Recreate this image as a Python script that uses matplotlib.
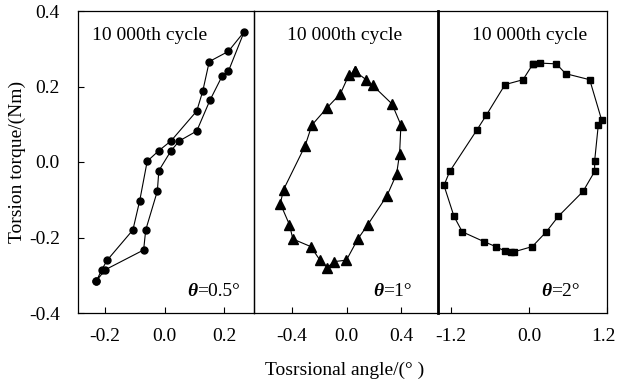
import matplotlib
matplotlib.use("Agg")
import matplotlib.pyplot as plt
from matplotlib.transforms import ScaledTranslation

plt.rcParams["font.family"] = ["Liberation Serif", "DejaVu Serif"]
plt.rcParams["axes.unicode_minus"] = False

# Hysteresis loops at the 10 000th cycle, torque (Nm) vs torsional angle (deg)

# theta = 0.5 deg, loading branch then unloading branch
angle_05 = [-0.228, -0.211, -0.192, -0.106, -0.083, -0.058, -0.019, 0.022,
            0.108, 0.128, 0.150, 0.214, 0.267,
            0.214, 0.194, 0.152, 0.108, 0.050, 0.022, -0.019, -0.024,
            -0.063, -0.070, -0.200, -0.228]
torque_05 = [-0.315, -0.286, -0.260, -0.180, -0.102, 0.002, 0.030, 0.056,
             0.135, 0.187, 0.266, 0.293, 0.345,
             0.240, 0.229, 0.163, 0.082, 0.056, 0.030, -0.023, -0.077,
             -0.180, -0.233, -0.286, -0.315]

# theta = 1 deg
angle_1 = [0.061, 0.143, 0.191, 0.332, 0.398, 0.388, 0.366, 0.296, 0.155,
           0.082, -0.002, -0.095, -0.143, -0.196, -0.264, -0.395, -0.420,
           -0.487, -0.463, -0.305, -0.255, -0.143, -0.046, 0.017, 0.061]
torque_1 = [0.240, 0.218, 0.203, 0.154, 0.098, 0.021, -0.032, -0.089, -0.166,
            -0.204, -0.260, -0.264, -0.280, -0.260, -0.224, -0.204, -0.166,
            -0.110, -0.073, 0.043, 0.098, 0.144, 0.181, 0.231, 0.240]

# theta = 2 deg
angle_2 = [0.062, 0.169, 0.420, 0.564, 0.934, 1.118, 1.066, 1.010, 1.010,
           0.831, 0.451, 0.266, 0.051, -0.231, -0.282, -0.369, -0.513,
           -0.692, -1.026, -1.154, -1.308, -1.220, -0.805, -0.657, -0.369,
           -0.092, 0.062]
torque_2 = [0.260, 0.262, 0.260, 0.234, 0.218, 0.111, 0.098, 0.003, -0.025,
            -0.078, -0.144, -0.185, -0.224, -0.238, -0.238, -0.236, -0.224,
            -0.211, -0.185, -0.144, -0.062, -0.025, 0.084, 0.124, 0.205,
            0.218, 0.260]

x_ticks = [[-0.2, 0.0, 0.2], [-0.4, 0.0, 0.4], [-1.2, 0.0, 1.2]]
y_ticks = [-0.4, -0.2, 0.0, 0.2, 0.4]
amplitudes = ["0.5", "1", "2"]

panels = [
    (angle_05, torque_05, "o", 5.0, (-0.29, 0.30), 197),
    (angle_1, torque_1, "^", 6.5, (-0.68, 0.67), 383),
    (angle_2, torque_2, "s", 5.0, (-1.40, 1.20), 551),
]

W, H = 617, 381
FS = 14
fig = plt.figure(figsize=(W / 100, H / 100), dpi=100)

edges = [78, 254, 438, 607]
top_px, bot_px = 11, 313
bottom = 1 - bot_px / H
height = (bot_px - top_px) / H
title_x = [150, 345, 530]

for i, (x, y, mk, ms, xlim, eq_x) in enumerate(panels):
    width_px = edges[i + 1] - edges[i]
    ax = fig.add_axes([edges[i] / W, bottom, width_px / W, height])
    ax.patch.set_visible(False)
    ax.plot(x, y, color="black", lw=0.8, marker=mk, ms=ms,
            markerfacecolor="black", markeredgecolor="black")
    ax.set_xlim(*xlim)
    ax.set_ylim(-0.4, 0.4)
    ax.set_xticks(x_ticks[i])
    ax.set_xticklabels([f"{v:.1f}" for v in x_ticks[i]], fontsize=FS)
    ax.tick_params(axis="x", direction="in", length=4, width=0.8, pad=11)
    if i == 0:
        ax.set_yticks(y_ticks)
        ax.set_yticklabels([f"{v:.1f}" for v in y_ticks], fontsize=FS)
        ax.tick_params(axis="y", direction="in", length=4, width=0.8, pad=13)
        ax.set_ylabel("Torsion torque/(Nm)", fontsize=FS, labelpad=2)
    else:
        ax.set_yticks([])
    if i == 2:
        # keep the last label inside the figure edge
        last = ax.get_xticklabels()[-1]
        last.set_transform(last.get_transform()
                           + ScaledTranslation(-0.04, 0, fig.dpi_scale_trans))
    for s in ax.spines.values():
        s.set_linewidth(0.9)
    if i == 2:
        ax.spines["left"].set_linewidth(2.0)

    ax.text((title_x[i] - edges[i]) / width_px, 1 - 24 / (bot_px - top_px),
            "10 000th cycle", transform=ax.transAxes, fontsize=FS,
            ha="center", va="center")
    ty = 22 / (bot_px - top_px)
    tx = (eq_x - edges[i]) / width_px
    ax.text(tx, ty, "=" + amplitudes[i] + "°", transform=ax.transAxes,
            fontsize=FS, ha="left", va="center", clip_on=False)
    ax.text(tx, ty, "θ", transform=ax.transAxes, fontsize=FS,
            fontstyle="italic", fontweight="bold", ha="right", va="center")

fig.text(345 / W, 1 - 370 / H, "Tosrsional angle/(° )", fontsize=FS,
         ha="center", va="center")

fig.savefig("out.png", dpi=100)
